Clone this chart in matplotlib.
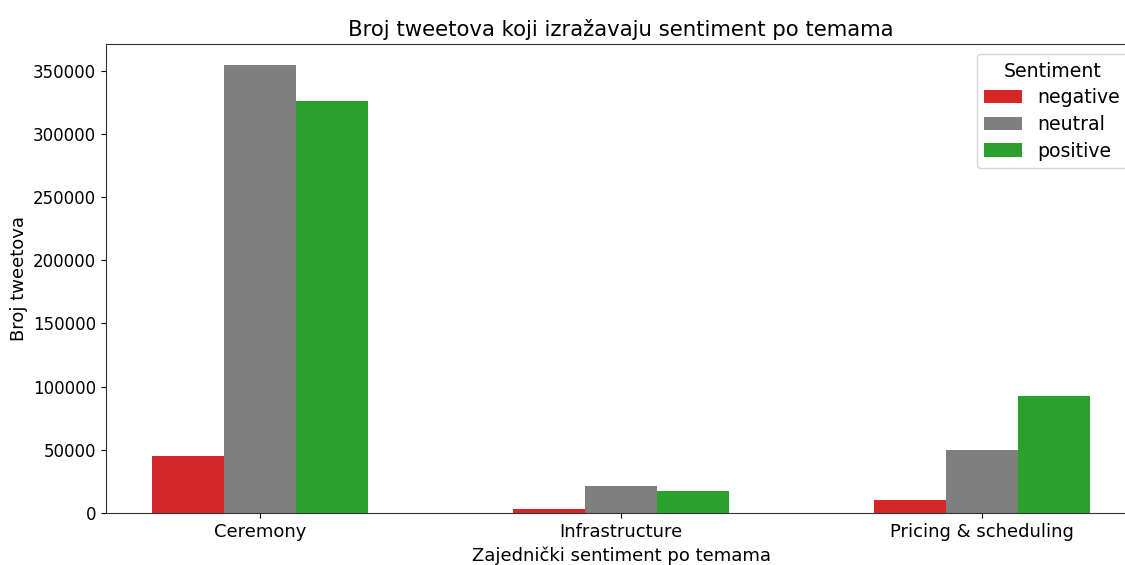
import numpy as np
import matplotlib
matplotlib.use("Agg")
import matplotlib.pyplot as plt

topics = ["Ceremony", "Infrastructure", "Pricing & scheduling"]
sentiments = ["negative", "neutral", "positive"]
negative = [45200, 3000, 10300]
neutral = [354000, 21500, 50000]
positive = [326000, 17500, 92700]
colors = ["#d62728", "#7f7f7f", "#2ca02c"]

fig = plt.figure(figsize=(11.25, 5.65), dpi=100)
ax = fig.add_axes([106 / 1125, 1 - 513 / 565, 1030 / 1125, 469 / 565])

x = np.arange(len(topics))
width = 0.2
for i, (name, vals) in enumerate(zip(sentiments, [negative, neutral, positive])):
    ax.bar(x + (i - 1) * width, vals, width, color=colors[i], label=name)

ax.set_xticks(x)
ax.set_xticklabels(topics, fontsize=13)
ax.tick_params(axis="y", labelsize=12)
ax.set_xlim(-0.427, 2.427)
ax.set_ylim(0, 371000)
ax.spines["right"].set_visible(False)
for s in ["left", "top", "bottom"]:
    ax.spines[s].set_color("#333333")

ax.set_title("Broj tweetova koji izražavaju sentiment po temama", fontsize=15.3)
ax.set_xlabel("Zajednički sentiment po temama", fontsize=13)
ax.set_ylabel("Broj tweetova", fontsize=13)

leg = ax.legend(title="Sentiment", fontsize=13.6, title_fontsize=13.6,
                loc="upper right", bbox_to_anchor=(1.001, 0.998),
                labelspacing=0.4)

fig.savefig("out.png", dpi=100)
